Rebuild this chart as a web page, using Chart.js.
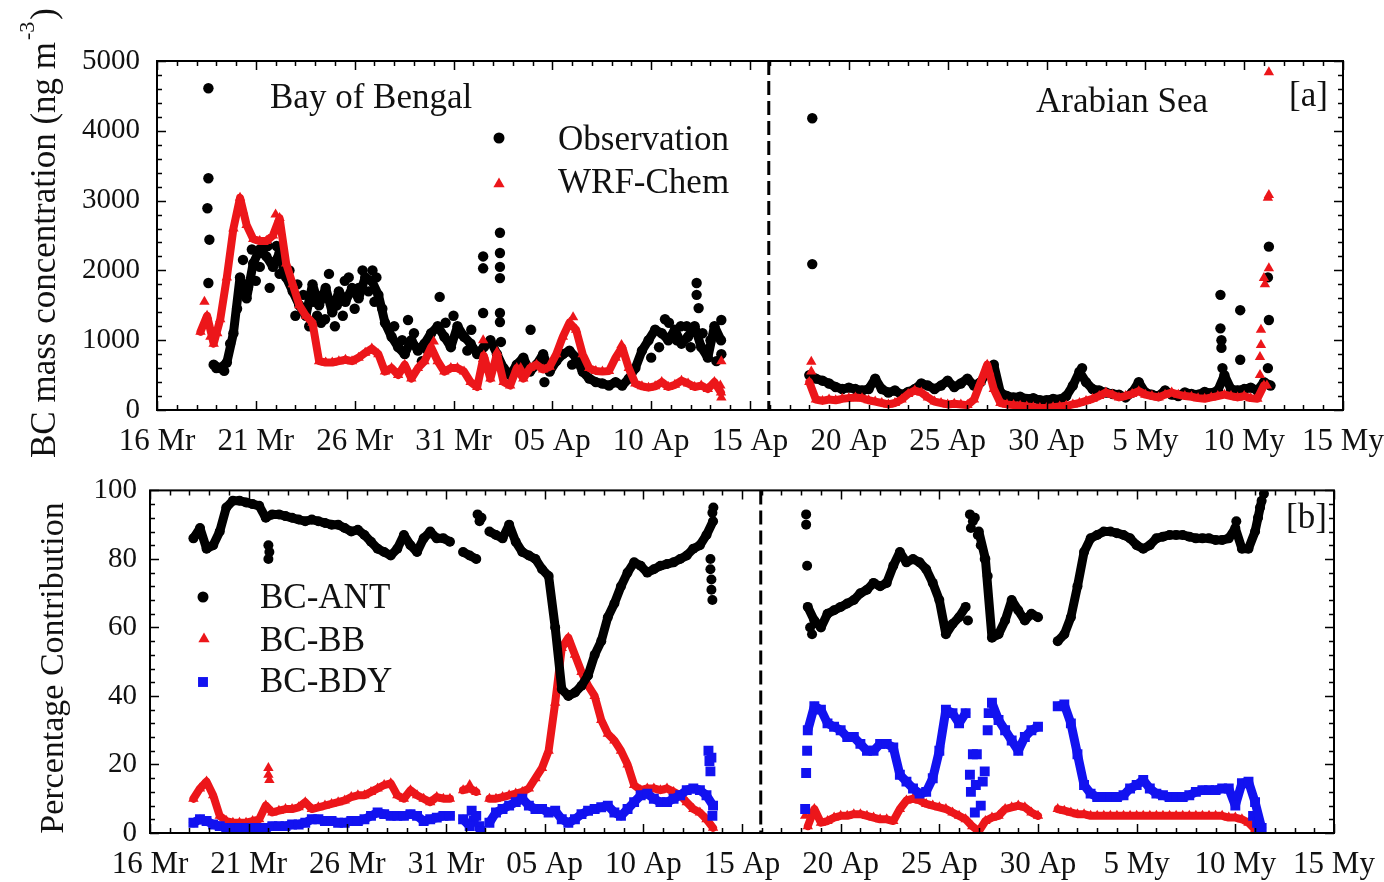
<!DOCTYPE html>
<html>
<head>
<meta charset="utf-8">
<script src="https://cdn.jsdelivr.net/npm/chart.js@4.4.0/dist/chart.umd.min.js"></script>
<style>
  html, body { margin: 0; padding: 0; background: #fff; }
  #topBox { position: absolute; left: 0; top: 0; }
  #botBox { position: absolute; left: 0; top: 460px; }
</style>
</head>
<body>
<div id="topBox"><canvas id="bcChart" width="1384" height="460"></canvas></div>
<div id="botBox"><canvas id="pctChart" width="1384" height="422"></canvas></div>
<script>
// x axis is days counted from 16 March (0) up to 15 May (60)
const dayTickLabels = ['16 Mr', '21 Mr', '26 Mr', '31 Mr', '05 Ap', '10 Ap', '15 Ap', '20 Ap', '25 Ap', '30 Ap', '5 My', '10 My', '15 My'];
const bobStart = 2.2;     // Bay of Bengal leg, first sample
const arbStart = 33.0;    // Arabian Sea leg, first sample
const sampleStep = 1 / 3; // 8-hourly readings
const legBreakDay = 30.95;

// ---- panel [a] : BC mass concentration (ng m-3) ----
const obsBob = [null, null, 650, 600, 680, 1100, 1900, 1600, 2100, 2300,
    2200, 2050, 2250, 1900, 1700, 1500, 1350, 1800, 1500, 1750,
    1400, 1700, 1550, 1750, 1600, 1900, 1850, 1650, 1250, 1050,
    900, 800, 1000, 850, 950, 1100, 1200, 1050, 900, 1200,
    1050, 950, 800, 900, 1000, 800, 600, 500, 650, 750,
    550, 650, 800, 550, 700, 800, 850, 750, 550, 450,
    400, 380, 350, 400, 350, 450, 600, 850, 1000, 1150,
    1100, 1000, 1150, 950, 1050, 1200, 900, 750, 1200, 1000];
const wrfBob = [1120, 1350, 950, 1300, 1900, 2600, 3040, 2650, 2450, 2420,
    2420, 2500, 2750, 2100, 1800, 1500, 1350, 1250, 700, 680,
    680, 700, 720, 700, 750, 820, 880, 800, 550, 600,
    500, 650, 450, 600, 700, 900, 700, 550, 600, 600,
    550, 400, 330, 780, 450, 800, 400, 350, 600, 450,
    600, 650, 580, 620, 800, 1050, 1250, 1150, 800, 600,
    560, 550, 560, 750, 900, 600, 380, 340, 320, 340,
    400, 330, 360, 420, 380, 330, 350, 300, 400, 250];
const obsArb = [500, 450, 420, 380, 330, 300, 320, 300, 280, 300,
    450, 300, 250, 280, 220, 260, 300, 380, 350, 300,
    350, 420, 330, 380, 450, 350, 400, 550, 650, 250,
    200, 180, 190, 160, 170, 140, 140, 160, 150, 200,
    350, 550, 400, 300, 280, 250, 230, 220, 180, 250,
    400, 250, 220, 200, 280, 220, 200, 250, 230, 220,
    260, 240, 280, 500, 300, 280, 300, 320, 280, 400,
    350];
const wrfArb = [400, 150, 130, 150, 140, 160, 170, 180, 170, 140,
    120, 100, 80, 100, 150, 230, 280, 250, 180, 120,
    100, 80, 90, 80, 70, 150, 400, 650, 300, 100,
    80, 70, 60, 50, 40, 30, 30, 40, 50, 60,
    80, 100, 130, 160, 200, 250, 220, 180, 200, 230,
    270, 220, 200, 180, 220, 250, 220, 200, 190, 170,
    160, 180, 200, 220, 200, 180, 200, 170, 160, 350,
    null];
// single readings off the regular series (spikes, scatter) : [day, value]
const obsExtra = [[2.6, 4610], [2.6, 3320], [2.55, 2890], [2.65, 2440], [2.6, 1820],
    [3.0, 600], [3.4, 560], [3.7, 950], [4.05, 1450], [4.35, 2150], [4.6, 1750], [4.8, 2300],
    [5.0, 1850], [5.2, 2050], [5.4, 2400], [5.6, 2350], [5.7, 1750], [6.05, 2350], [6.2, 1950],
    [6.4, 2050], [6.7, 2000], [7.0, 1350], [7.1, 1800], [7.4, 1650], [7.7, 1200], [7.9, 1550],
    [8.1, 1350], [8.3, 1250], [8.5, 1300], [8.7, 1950], [9.0, 1200], [9.1, 1500], [9.4, 1350],
    [9.5, 1850], [9.7, 1900], [10.0, 1450], [10.2, 1750], [10.4, 2000], [10.7, 1700], [10.9, 2000],
    [11.0, 1550], [11.1, 1900], [11.4, 1450], [12.0, 1200], [12.4, 1000], [12.7, 1290], [13.0, 1100],
    [13.4, 700], [13.7, 850], [14.3, 1620], [14.6, 1250], [15.0, 1350], [15.3, 1100], [15.7, 850],
    [15.9, 1150],
    [16.5, 2200], [16.5, 2030], [16.5, 1390], [17.35, 2540], [17.35, 2250], [17.35, 2050],
    [17.35, 1890], [17.35, 1390], [17.35, 1260], [17.4, 975], [18.9, 1150], [19.6, 400],
    [21.0, 650], [25.0, 750], [25.4, 900], [25.7, 1300], [25.9, 1250], [26.3, 1000], [26.5, 1200],
    [26.8, 1200], [27.0, 900], [27.3, 1820], [27.3, 1650], [27.4, 1460], [27.6, 1100], [28.0, 1000],
    [28.3, 700], [28.55, 1290], [28.55, 800],
    [33.15, 4180], [33.15, 2090], [42.2, 600], [46.8, 600], [53.8, 1650], [53.8, 1170], [53.85, 1000],
    [53.85, 890], [53.9, 600], [54.8, 1430], [54.8, 720], [56.25, 2340], [56.2, 1900], [56.25, 1290],
    [56.2, 600]];
const wrfExtra = [[2.4, 1550], [2.7, 1050], [3.05, 1100], [4.35, 2850], [6.0, 2800],
    [14.0, 980], [16.5, 1000], [16.5, 730], [17.2, 830], [18.4, 600], [21.05, 1330],
    [23.5, 930], [28.55, 700], [28.55, 180], [28.5, 350],
    [33.1, 690], [33.1, 550], [41.85, 500], [42.1, 550], [55.8, 500], [55.8, 760], [55.85, 930],
    [55.85, 1150], [56.0, 1890], [56.05, 1800], [56.15, 350], [56.25, 2030], [56.2, 3040],
    [56.25, 3080], [56.25, 4840]];

// ---- panel [b] : percentage contribution ----
const antBob = [86, 89, 83, 84, 88, 95, 97, 97, 96.5, 96,
    95.5, 92, 93, 93, 92.5, 92, 91.5, 91, 91.5, 91,
    90.5, 90, 90, 89, 88, 88.5, 87, 85, 83, 82,
    81, 83, 87, 84, 82, 86, 88, 86, 86, 85,
    null, 82, 81, 80, null, 88, 87, 86, 90, 85,
    82, 81, 80, 77, 75, 60, 42, 40, 41, 43,
    46, 52, 56, 63, 67, 72, 76, 79, 78, 76,
    77, 78, 78.5, 79, 80, 81, 83, 84, 87, 91];
const bbBob = [10, 13, 15, 11, 5, 3.5, 3, 3, 3, 3.5,
    4, 8, 6, 6.5, 7, 7, 7.5, 9, 7, 7.5,
    8, 8.5, 9, 9.5, 10.5, 11, 11, 12, 13, 14,
    14.5, 11, 10, 12.5, 11, 10, 9, 10.5, 10, 10,
    null, 12.5, 13, 12, null, 10, 10, 10.5, 11, 11.5,
    12, 13, 16, 19, 24, 38, 54, 57, 52, 47,
    43, 40, 33, 29, 27, 24, 20, 14, 12.5, 13,
    13, 12.5, 13, 12, 11, 9, 7, 6, 4, 1.5];
const bdyBob = [3, 4, 3.5, 2.5, 2, 1.5, 1.5, 1.5, 1.5, 1.5,
    1.5, 1.5, 2, 2, 2, 2.5, 2.5, 3, 4, 4,
    3.5, 3.5, 3, 3, 3.5, 3.5, 4, 5, 6, 5.5,
    5, 5, 5, 5.5, 5, 3.5, 4, 4.5, 5, 5,
    null, 4, 2, 5, null, 3, 6, 7, 8, 9,
    10, 8, 7, 7, 6, 6.5, 4, 3, 4, 5.5,
    6.5, 7, 7.5, 8, 6, 5, 7, 9, 11, 11.5,
    10, 9, 9, 10, 11, 12.5, 13, 12.5, 11, 8];
const antArb = [null, 66, 62, 60, 64, 65, 66, 67, 68, 70,
    71, 73, 72, 73, 78, 82, 79, 80, 79, 77,
    73, 68, 58, 61, 63, 66, null, 88, 80, 57,
    58, 62, 68, 65, 62, 64, 63, null, null, 56,
    58, 63, 72, 82, 86, 87, 88, 88, 87.5, 87,
    86, 84, 83, 84, 86, 86.5, 87, 87, 87, 86.5,
    86, 86, 86, 85.5, 85.5, 86, 89, 83, 83, 88,
    97];
const bbArb = [null, 2, 7, 3, 3.5, 4.5, 5, 5, 5.5, 5.5,
    5, 4.5, 4, 4, 3.5, 7, 9.5, 10, 9.5, 8.5,
    8, 7.5, 7, 6, 5, 4, 2, 0.5, 3.5, 4.5,
    5, 7, 7.5, 8, 7.5, 6, 5, null, null, 7,
    6.5, 6, 5.5, 5.5, 5, 5, 5, 5, 5, 5,
    5, 5, 5, 5, 5, 5, 5, 5, 5, 5,
    5, 5, 5, 5, 5, 4.5, 4.5, 4, 3, 1,
    null];
const bdyArb = [null, 30, 37, 36, 32, 31, 30, 28, 28, 26,
    24, 24, 26, 26, 25, 17, 15, 13, 11.5, 12,
    16, 24, 36, 35, 32, 35, null, null, null, 38,
    33, 30, 27, 24, 28, 30, 31, null, null, 37,
    37.5, 32, 23, 14, 11.5, 10.5, 10.5, 10.5, 10.5, 11,
    13, 14, 15.5, 13, 11.5, 11, 10.5, 10.5, 10.5, 11,
    12, 12.5, 12.5, 12.5, 13, 13, 8, 14.5, 15, 9,
    1.5];
const antExtra = [[6.0, 84], [6.05, 82], [6.0, 80], [16.6, 93], [16.7, 91], [16.8, 92],
    [28.4, 80], [28.4, 77], [28.45, 74], [28.45, 71], [28.5, 68], [28.5, 93.5], [28.55, 95],
    [33.25, 93], [33.25, 90], [33.3, 78], [33.45, 60], [33.55, 58], [41.45, 62],
    [41.55, 93], [41.6, 89], [41.7, 91], [41.8, 92], [41.95, 87], [42.1, 84], [42.3, 80],
    [42.45, 75], [55.05, 91], [56.15, 92], [56.25, 95], [56.45, 99]];
const bbExtra = [[2.7, 14], [6.0, 19], [6.0, 17], [6.05, 15.5], [16.2, 14], [33.2, 5]];
const bdyExtra = [[16.3, 6.5], [16.4, 3.5], [16.7, 2], [16.75, 0.5], [28.3, 24], [28.35, 21],
    [28.4, 18], [28.45, 22], [28.5, 5],
    [33.2, 7], [33.25, 17.5], [33.3, 24], [41.55, 17], [41.6, 12], [41.7, 23], [41.8, 6],
    [41.85, 14], [41.9, 23], [42.1, 8], [42.2, 15], [42.3, 18], [42.45, 30], [42.5, 35],
    [55.9, 5], [56.1, 3], [56.2, 1]];

const RED = 'rgb(236,22,26)';
const BLUE = 'rgb(18,18,240)';
const FONT = "'Liberation Serif', 'Times New Roman', serif";

function series(start, vals) {
    return vals.map((v, i) => ({ x: start + i * sampleStep, y: v }));
}

function extraPts(list) {
    return list.map(p => ({ x: p[0], y: p[1] }));
}

// hourly records drawn as dense markers: marker + thick joining band
function bandSet(label, pts, color, style, radius, band) {
    return {
        label: label,
        data: pts,
        showLine: true,
        spanGaps: false,
        borderColor: color,
        borderWidth: band,
        borderCapStyle: 'round',
        borderJoinStyle: 'round',
        tension: 0,
        pointStyle: style,
        pointRadius: radius,
        pointBackgroundColor: color,
        pointBorderColor: color,
        pointBorderWidth: 0
    };
}

function markerSet(label, pts, color, style, radius) {
    return {
        label: label,
        data: pts,
        showLine: false,
        pointStyle: style,
        pointRadius: radius,
        pointBackgroundColor: color,
        pointBorderColor: color,
        pointBorderWidth: 0
    };
}

function drawMarker(ctx, style, x, y, r, color) {
    ctx.fillStyle = color;
    ctx.beginPath();
    if (style === 'circle') {
        ctx.arc(x, y, r, 0, Math.PI * 2);
    } else if (style === 'triangle') {
        ctx.moveTo(x, y - r);
        ctx.lineTo(x + r * 0.866, y + r * 0.5);
        ctx.lineTo(x - r * 0.866, y + r * 0.5);
        ctx.closePath();
    } else {
        let s = r / Math.SQRT2;
        ctx.rect(x - s, y - s, 2 * s, 2 * s);
    }
    ctx.fill();
}

// frame, inward ticks on four sides, dashed leg separator
function framePlugin(yMinor, yMajor, yMax) {
    return {
        id: 'frame',
        afterDatasetsDraw(chart) {
            const ctx = chart.ctx;
            const a = chart.chartArea;
            const xs = chart.scales.x;
            const ys = chart.scales.y;
            ctx.save();
            ctx.strokeStyle = '#000';
            ctx.lineWidth = 1.5;
            ctx.beginPath();
            for (let d = 0; d <= 60; d++) {
                let px = Math.round(xs.getPixelForValue(d)) + 0.5;
                let len = d % 5 === 0 ? 9 : 5;
                ctx.moveTo(px, a.bottom); ctx.lineTo(px, a.bottom - len);
                ctx.moveTo(px, a.top); ctx.lineTo(px, a.top + len);
            }
            for (let v = 0; v <= yMax; v += yMinor) {
                let py = Math.round(ys.getPixelForValue(v)) + 0.5;
                let len = v % yMajor === 0 ? 9 : 5;
                ctx.moveTo(a.left, py); ctx.lineTo(a.left + len, py);
                ctx.moveTo(a.right, py); ctx.lineTo(a.right - len, py);
            }
            ctx.stroke();

            ctx.lineWidth = 2;
            ctx.strokeRect(a.left, a.top, a.right - a.left, a.bottom - a.top);

            // separator between the two cruise legs
            let bx = xs.getPixelForValue(legBreakDay);
            ctx.lineWidth = 3;
            ctx.setLineDash([14, 6]);
            ctx.beginPath();
            ctx.moveTo(bx, a.top);
            ctx.lineTo(bx, a.bottom);
            ctx.stroke();
            ctx.restore();
        }
    };
}

function xAxis(height) {
    return {
        type: 'linear',
        min: 0,
        max: 60,
        grid: { display: false, drawTicks: false },
        border: { display: false },
        ticks: {
            stepSize: 5,
            autoSkip: false,
            maxRotation: 0,
            padding: 13,
            color: '#111',
            font: { family: FONT, size: 31 },
            callback: (v) => dayTickLabels[Math.round(v / 5)]
        },
        afterFit: (s) => {
            s.height = height;
            // labels may hang over the side margins
            s.paddingLeft = 0;
            s.paddingRight = 0;
        }
    };
}

function yAxis(max, step, width, pad) {
    return {
        type: 'linear',
        min: 0,
        max: max,
        grid: { display: false, drawTicks: false },
        border: { display: false },
        ticks: {
            stepSize: step,
            padding: pad,
            color: '#111',
            font: { family: FONT, size: 29 },
            callback: (v) => String(v)
        },
        afterFit: (s) => { s.width = width; }
    };
}

window.addEventListener('load', () => {
    // 上圖 : BC mass concentration
    const topText = {
        id: 'topText',
        afterDraw(chart) {
            const ctx = chart.ctx;
            ctx.save();
            ctx.fillStyle = '#111';
            ctx.textBaseline = 'alphabetic';
            ctx.font = '35px ' + FONT;
            ctx.fillText('Bay of Bengal', 270, 108);
            ctx.fillText('Arabian Sea', 1036, 112);
            ctx.fillText('Observation', 558, 150);
            ctx.fillText('WRF-Chem', 558, 193);
            ctx.fillText('[a]', 1289, 106);
            drawMarker(ctx, 'circle', 499, 138, 5.5, '#000');
            drawMarker(ctx, 'triangle', 499, 184, 6.5, RED);

            // y title with superscript
            ctx.fillStyle = '#111';
            ctx.translate(55, 0);
            ctx.rotate(-Math.PI / 2);
            const main = 'BC mass concentration (ng m';
            ctx.font = '35px ' + FONT;
            let w1 = ctx.measureText(main).width;
            ctx.font = '22px ' + FONT;
            let w2 = ctx.measureText('-3').width;
            ctx.font = '35px ' + FONT;
            let w3 = ctx.measureText(')').width;
            let total = w1 + w2 + w3 + 4;
            let start = -233 - total / 2;
            ctx.fillText(main, start, 0);
            ctx.font = '22px ' + FONT;
            ctx.fillText('-3', start + w1 + 2, -21);
            ctx.font = '35px ' + FONT;
            ctx.fillText(')', start + w1 + w2 + 4, 0);
            ctx.restore();
        }
    };

    const bcChart = new Chart(document.getElementById('bcChart').getContext('2d'), {
        type: 'scatter',
        data: {
            datasets: [
                bandSet('WRF-Chem', series(bobStart, wrfBob).concat([{ x: 30, y: null }], series(arbStart, wrfArb)), RED, 'triangle', 6, 8),
                markerSet('WRF-Chem extra', extraPts(wrfExtra), RED, 'triangle', 6),
                bandSet('Observation', series(bobStart, obsBob).concat([{ x: 30, y: null }], series(arbStart, obsArb)), '#000', 'circle', 5.2, 9),
                markerSet('Observation extra', extraPts(obsExtra), '#000', 'circle', 5.2)
            ]
        },
        options: {
            responsive: false,
            animation: false,
            events: [],
            layout: { padding: { top: 61, right: 41, left: 0, bottom: 0 } },
            scales: {
                x: xAxis(50),
                y: yAxis(5000, 1000, 157, 17)
            },
            plugins: {
                legend: { display: false },
                tooltip: { enabled: false }
            }
        },
        plugins: [framePlugin(200, 1000, 5000), topText]
    });

    // 下圖 : percentage contribution
    const botText = {
        id: 'botText',
        afterDraw(chart) {
            const ctx = chart.ctx;
            ctx.save();
            ctx.fillStyle = '#111';
            ctx.font = '35px ' + FONT;
            ctx.fillText('BC-ANT', 260, 148);
            ctx.fillText('BC-BB', 260, 191);
            ctx.fillText('BC-BDY', 260, 232);
            ctx.fillText('[b]', 1286, 68);
            drawMarker(ctx, 'circle', 203, 137, 5.5, '#000');
            drawMarker(ctx, 'triangle', 204, 179, 6.5, RED);
            drawMarker(ctx, 'rect', 203, 222, 7, BLUE);

            ctx.fillStyle = '#111';
            ctx.translate(63, 208);
            ctx.rotate(-Math.PI / 2);
            ctx.textAlign = 'center';
            ctx.font = '34px ' + FONT;
            ctx.fillText('Percentage Contribution', 0, 0);
            ctx.restore();
        }
    };

    const pctChart = new Chart(document.getElementById('pctChart').getContext('2d'), {
        type: 'scatter',
        data: {
            datasets: [
                bandSet('BC-ANT', series(bobStart, antBob).concat([{ x: 30, y: null }], series(arbStart, antArb)), '#000', 'circle', 5, 9),
                markerSet('BC-ANT extra', extraPts(antExtra), '#000', 'circle', 5),
                bandSet('BC-BDY', series(bobStart, bdyBob).concat([{ x: 30, y: null }], series(arbStart, bdyArb)), BLUE, 'rect', 7, 9),
                markerSet('BC-BDY extra', extraPts(bdyExtra), BLUE, 'rect', 7),
                bandSet('BC-BB', series(bobStart, bbBob).concat([{ x: 30, y: null }], series(arbStart, bbArb)), RED, 'triangle', 6, 8),
                markerSet('BC-BB extra', extraPts(bbExtra), RED, 'triangle', 6)
            ]
        },
        options: {
            responsive: false,
            animation: false,
            events: [],
            layout: { padding: { top: 24, right: 50, left: 0, bottom: 0 } },
            scales: {
                x: xAxis(49),
                y: yAxis(100, 20, 150, 13)
            },
            plugins: {
                legend: { display: false },
                tooltip: { enabled: false }
            }
        },
        plugins: [framePlugin(4, 20, 100), botText]
    });
});
</script>
</body>
</html>
